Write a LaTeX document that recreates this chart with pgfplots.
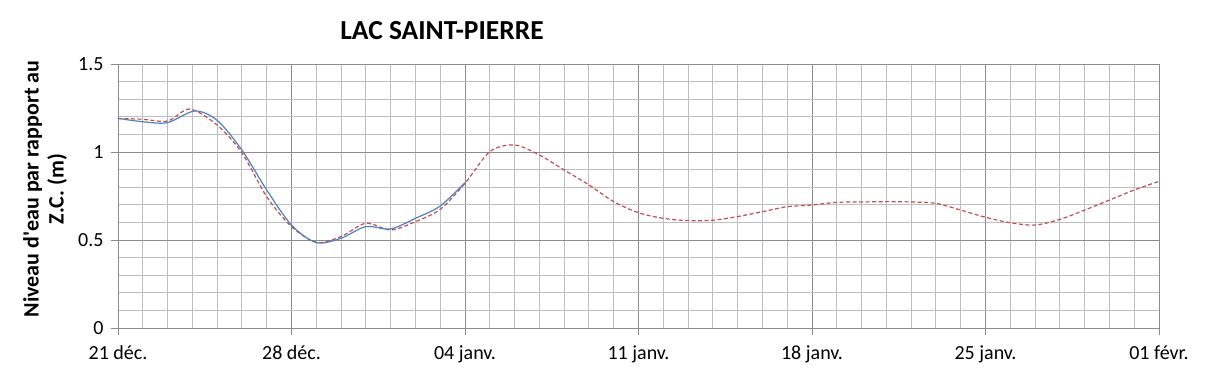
\documentclass[border=0pt]{standalone}
\usepackage{pgfplots}
\pgfplotsset{compat=1.18}
\usepackage{fontspec}
\setmainfont{Carlito}
\definecolor{obsblue}{HTML}{4F81BD}
\definecolor{prevred}{HTML}{C0504D}
\definecolor{majgrid}{HTML}{8C8C8C}
\definecolor{mingrid}{HTML}{BEBEBE}
\begin{document}
\begin{tikzpicture}[x=1pt,y=1pt]
\path (0,0) rectangle (1209,378);
\begin{axis}[
  at={(118pt,50pt)}, anchor=south west,
  width=1041pt, height=264pt, scale only axis,
  xmin=0, xmax=42, ymin=0, ymax=1.5,
  xtick={0,7,14,21,28,35,42},
  xticklabels={21 déc.,28 déc.,04 janv.,11 janv.,18 janv.,25 janv.,01 févr.},
  ytick={0,0.5,1,1.5},
  yticklabels={0,0.5,1,1.5},
  minor x tick num=6, minor y tick num=4,
  grid=both,
  major grid style={draw=majgrid, line width=0.9pt},
  minor grid style={draw=mingrid, line width=0.9pt},
  axis lines*=left,
  axis line style={draw=majgrid, line width=0.9pt},
  tick align=outside,
  major tick length=7pt, minor tick length=0pt,
  tick style={draw=majgrid, line width=0.9pt},
  ticklabel style={font=\fontsize{20}{24}\selectfont, text=black},
  xticklabel style={yshift=-7pt},
  yticklabel style={xshift=-4pt},
  clip=false,
]
\addplot[prevred, line width=1.2pt, dash pattern=on 4pt off 2.5pt, smooth, tension=0.5] coordinates {
(0,1.191) (1,1.186) (2,1.176) (2.9,1.244) (4,1.153) (5,0.995) (6,0.746) (7,0.576)
(8,0.487) (9,0.52) (10,0.595) (11,0.557) (12,0.604) (13,0.674) (14,0.822)
(15,1.002) (16,1.04) (17,0.983) (18,0.898) (19,0.813) (20,0.718) (21,0.655)
(22,0.623) (23,0.61) (24,0.612) (25,0.633) (26,0.661) (27,0.689) (28,0.699)
(29,0.714) (30,0.716) (31,0.718) (32,0.716) (33,0.708) (34,0.67) (35,0.629)
(36,0.598) (37,0.585) (38,0.617) (39,0.67) (40,0.727) (41,0.784) (42,0.833)
};
\addplot[obsblue, line width=1.2pt, smooth, tension=0.5] coordinates {
(0,1.191) (1,1.172) (2,1.167) (3.1,1.233) (4,1.18) (5,1.011) (6,0.784) (7,0.585)
(8,0.485) (9,0.51) (10,0.576) (11,0.563) (12,0.623) (13,0.693) (14,0.826)
};
\end{axis}
\node[font=\bfseries\fontsize{27.5}{32}\selectfont] at (442,347) {LAC SAINT-PIERRE};
\node[rotate=90, align=center, font=\bfseries\fontsize{22}{25}\selectfont] at (45,189) {Niveau d\textquotesingle eau par rapport au\\Z.C. (m)};
\end{tikzpicture}
\end{document}
